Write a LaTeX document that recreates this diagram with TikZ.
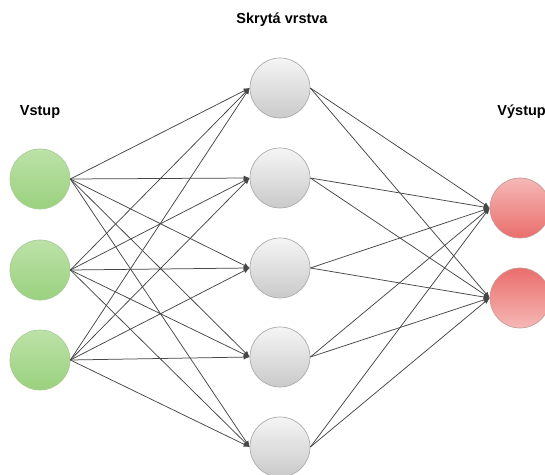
\documentclass[tikz,border=0pt]{standalone}
\usepackage{fontspec}
\setmainfont{Liberation Sans}
\usetikzlibrary{arrows.meta}
\definecolor{gtop}{HTML}{BCE2A8}
\definecolor{gbot}{HTML}{9AD17E}
\definecolor{gbrd}{HTML}{A9CC98}
\definecolor{rlight}{HTML}{F5B8B6}
\definecolor{rdark}{HTML}{EA6E6C}
\definecolor{rbrd}{HTML}{C89A98}
\begin{document}
\begin{tikzpicture}[x=1bp,y=-1bp,
  neuron/.style={circle,minimum size=60bp,inner sep=0pt,line width=0.7bp},
  innode/.style={neuron,draw=gbrd,top color=gtop,bottom color=gbot},
  hidnode/.style={neuron,draw=gray!65,top color=gray!8,bottom color=gray!42},
  outnode/.style={neuron,draw=rbrd},
  lbl/.style={font=\bfseries\fontsize{14.5bp}{16bp}\selectfont,inner sep=0pt},
  conn/.style={draw=black!72,line width=0.75bp,-{Latex[length=6bp,width=5bp]}}]
\useasboundingbox (0,0) rectangle (545,475);
\fill[white] (0,0) rectangle (545,475);
\node[innode] (i1) at (40,179) {};
\node[innode] (i2) at (40,270) {};
\node[innode] (i3) at (40,360) {};
\node[hidnode] (h1) at (280,88) {};
\node[hidnode] (h2) at (280,178) {};
\node[hidnode] (h3) at (280,268) {};
\node[hidnode] (h4) at (280,357) {};
\node[hidnode] (h5) at (280,447) {};
\node[outnode,top color=rlight,bottom color=rdark] (o1) at (520,208) {};
\node[outnode,top color=rdark,bottom color=rlight] (o2) at (520,298) {};
\node[lbl] (lin) at (40,112) {Vstup};
\node[lbl] (lhid) at (282,20) {Skrytá vrstva};
\node[lbl,anchor=east] (lout) at (546,112) {Výstup};
\foreach \i in {1,2,3}{\foreach \h in {1,...,5}{\draw[conn] (i\i.east) -- (h\h.west);}}
\foreach \h in {1,...,5}{\foreach \o in {1,2}{\draw[conn] (h\h.east) -- (o\o.west);}}
\end{tikzpicture}
\end{document}
